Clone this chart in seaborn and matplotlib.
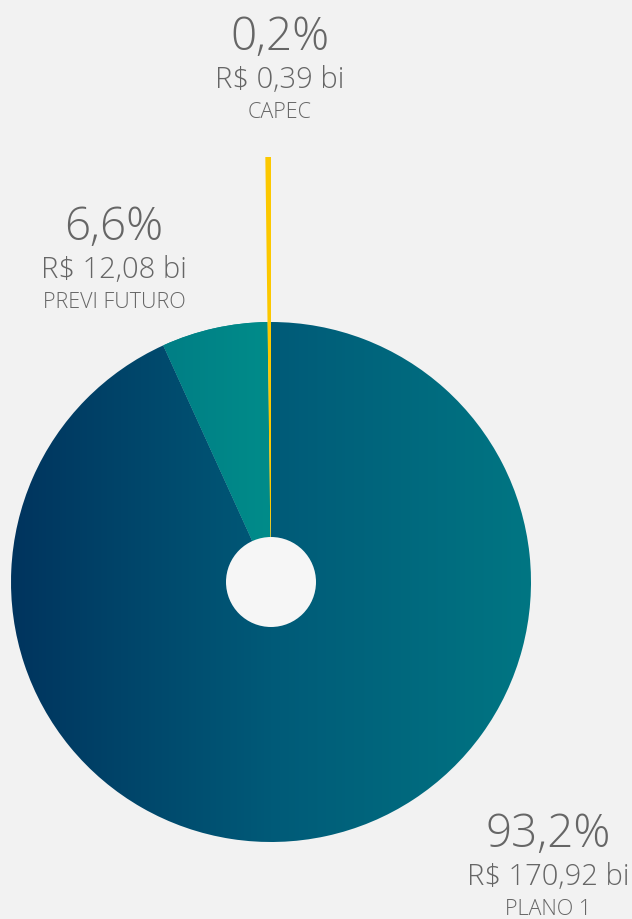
import numpy as np
import matplotlib
matplotlib.use("Agg")
import matplotlib.pyplot as plt
import seaborn as sns
from matplotlib.colors import LinearSegmentedColormap
from matplotlib.patches import Circle

sns.set_theme(style="white")
plt.rcParams['font.family'] = ['Open Sans', 'DejaVu Sans']

# data
planos = ['CAPEC', 'PREVI FUTURO', 'PLANO 1']
valores = [0.39, 12.08, 170.92]
pct_labels = ['0,2%', '6,6%', '93,2%']
valor_labels = ['R$ 0,39 bi', 'R$ 12,08 bi', 'R$ 170,92 bi']

BG = '#f2f2f2'
TXT = '#666666'

fig = plt.figure(figsize=(6.32, 9.2), dpi=100, facecolor=BG)
ax = fig.add_axes([0, 0, 1, 1])
ax.set_facecolor(BG)

cx, cy, r = 271, 337, 260
wedges, _ = ax.pie(valores, startangle=90, counterclock=True, center=(cx, cy),
                   radius=r, colors=['#fcc800', '#00878a', 'none'],
                   wedgeprops=dict(linewidth=0), frame=True)
ax.set_xlim(0, 632)
ax.set_ylim(0, 920)
ax.set_aspect('equal')
ax.axis('off')

# capec slice sticks out
wedges[0].set_radius(425)

# gradient on the big slice
grad = np.linspace(0, 1, 256).reshape(1, -1)
cmap = LinearSegmentedColormap.from_list('previ', ['#00345e', '#005a78', '#007683'])
im = ax.imshow(grad, cmap=cmap, extent=(cx - r, cx + r, cy - r, cy + r),
               aspect='auto', zorder=1)
im.set_clip_path(wedges[2])
cmap2 = LinearSegmentedColormap.from_list('pf', ['#007e85', '#008c8a'])
im2 = ax.imshow(grad, cmap=cmap2, extent=(cx - 110, cx, cy, cy + r),
                aspect='auto', zorder=1)
im2.set_clip_path(wedges[1])
wedges[0].set_zorder(2)

ax.add_patch(Circle((cx, cy), 45, facecolor='#f6f6f6', edgecolor='none', zorder=3))

# labels (baseline of the % text)
pos = [(280, 870), (114, 680), (548, 73)]
for (x, y), p, v, n in zip(pos, pct_labels, valor_labels, planos):
    ax.text(x, y, p, ha='center', va='baseline', fontsize=33, color=TXT, fontweight='light')
    ax.text(x, y - 38, v, ha='center', va='baseline', fontsize=21, color=TXT, fontweight='light')
    ax.text(x, y - 68, n, ha='center', va='baseline', fontsize=15.5, color=TXT, fontweight='light')

fig.savefig('out.png', dpi=100, facecolor=BG)
